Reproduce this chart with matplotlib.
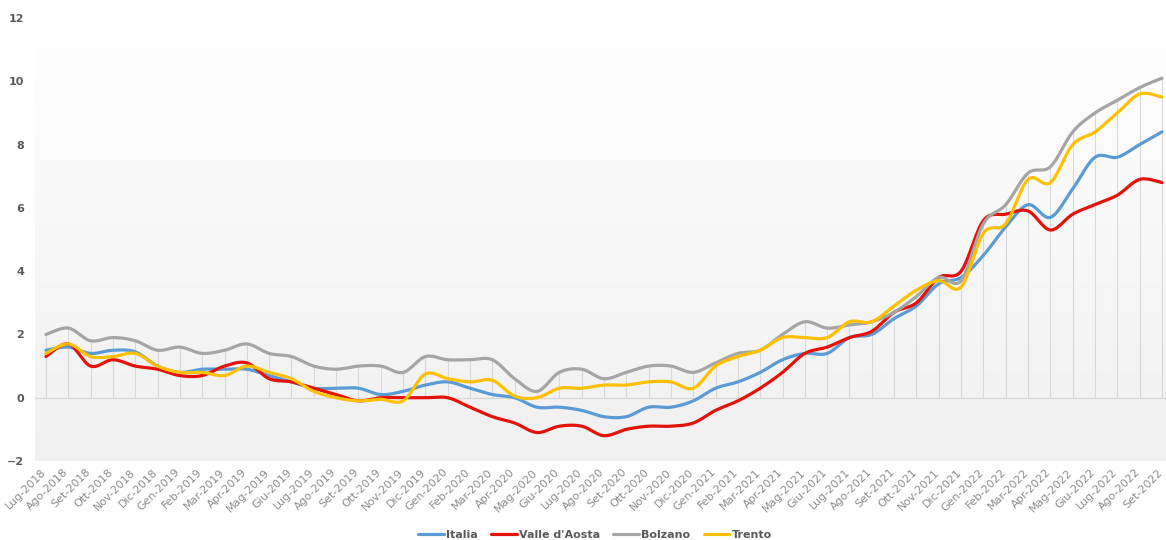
import numpy as np
import matplotlib
matplotlib.use("Agg")
import matplotlib.pyplot as plt
import matplotlib.transforms as mtransforms
from matplotlib.colors import LinearSegmentedColormap

months = [
    "Lug-2018", "Ago-2018", "Set-2018", "Ott-2018", "Nov-2018", "Dic-2018",
    "Gen-2019", "Feb-2019", "Mar-2019", "Apr-2019", "Mag-2019", "Giu-2019",
    "Lug-2019", "Ago-2019", "Set-2019", "Ott-2019", "Nov-2019", "Dic-2019",
    "Gen-2020", "Feb-2020", "Mar-2020", "Apr-2020", "Mag-2020", "Giu-2020",
    "Lug-2020", "Ago-2020", "Set-2020", "Ott-2020", "Nov-2020", "Dic-2020",
    "Gen-2021", "Feb-2021", "Mar-2021", "Apr-2021", "Mag-2021", "Giu-2021",
    "Lug-2021", "Ago-2021", "Set-2021", "Ott-2021", "Nov-2021", "Dic-2021",
    "Gen-2022", "Feb-2022", "Mar-2022", "Apr-2022", "Mag-2022", "Giu-2022",
    "Lug-2022", "Ago-2022", "Set-2022",
]

italia = [
    1.5, 1.6, 1.4, 1.5, 1.45, 1.0, 0.8, 0.9, 0.9, 0.9, 0.7, 0.5,
    0.3, 0.3, 0.3, 0.1, 0.2, 0.4, 0.5, 0.3, 0.1, 0.0, -0.3, -0.3,
    -0.4, -0.6, -0.6, -0.3, -0.3, -0.1, 0.3, 0.5, 0.8, 1.2, 1.4, 1.4,
    1.9, 2.0, 2.5, 2.9, 3.6, 3.8, 4.5, 5.4, 6.1, 5.7, 6.6, 7.6,
    7.6, 8.0, 8.4,
]
valle_aosta = [
    1.3, 1.7, 1.0, 1.2, 1.0, 0.9, 0.7, 0.7, 1.0, 1.1, 0.6, 0.5,
    0.3, 0.1, -0.1, 0.0, 0.0, 0.0, 0.0, -0.3, -0.6, -0.8, -1.1, -0.9,
    -0.9, -1.2, -1.0, -0.9, -0.9, -0.8, -0.4, -0.1, 0.3, 0.8, 1.4, 1.6,
    1.9, 2.1, 2.7, 3.0, 3.8, 4.0, 5.6, 5.8, 5.9, 5.3, 5.8, 6.1,
    6.4, 6.9, 6.8,
]
bolzano = [
    2.0, 2.2, 1.8, 1.9, 1.8, 1.5, 1.6, 1.4, 1.5, 1.7, 1.4, 1.3,
    1.0, 0.9, 1.0, 1.0, 0.8, 1.3, 1.2, 1.2, 1.2, 0.6, 0.2, 0.8,
    0.9, 0.6, 0.8, 1.0, 1.0, 0.8, 1.1, 1.4, 1.5, 2.0, 2.4, 2.2,
    2.3, 2.4, 2.7, 3.2, 3.8, 3.7, 5.5, 6.1, 7.1, 7.3, 8.4, 9.0,
    9.4, 9.8, 10.1,
]
trento = [
    1.4, 1.7, 1.3, 1.3, 1.4, 1.0, 0.8, 0.8, 0.7, 1.0, 0.8, 0.6,
    0.2, 0.0, -0.1, -0.05, -0.1, 0.75, 0.6, 0.5, 0.55, 0.05, 0.0, 0.3,
    0.3, 0.4, 0.4, 0.5, 0.5, 0.3, 1.0, 1.3, 1.5, 1.9, 1.9, 1.9,
    2.4, 2.4, 2.9, 3.4, 3.7, 3.5, 5.2, 5.5, 6.9, 6.8, 8.0, 8.4,
    9.0, 9.6, 9.5,
]

series = [
    ("Italia", italia, "#5B9BD5"),
    ("Valle d'Aosta", valle_aosta, "#E3120B"),
    ("Bolzano", bolzano, "#A5A5A5"),
    ("Trento", trento, "#FFC000"),
]


def smooth(y, steps=16):
    # Excel-style smoothed line: cubic Bezier with Catmull-Rom control points
    y = np.asarray(y, dtype=float)
    x = np.arange(len(y), dtype=float)
    pts = np.column_stack([x, y])
    out = []
    for i in range(len(pts) - 1):
        p0 = pts[max(i - 1, 0)]
        p1 = pts[i]
        p2 = pts[i + 1]
        p3 = pts[min(i + 2, len(pts) - 1)]
        c1 = p1 + (p2 - p0) / 6
        c2 = p2 - (p3 - p1) / 6
        t = np.linspace(0, 1, steps, endpoint=False)[:, None]
        seg = ((1 - t) ** 3) * p1 + 3 * ((1 - t) ** 2) * t * c1 + 3 * (1 - t) * t ** 2 * c2 + t ** 3 * p2
        out.append(seg)
    out.append(pts[-1:])
    out = np.vstack(out)
    return out[:, 0], out[:, 1]


fig = plt.figure(figsize=(11.66, 5.40), dpi=100)
ax = fig.add_axes([35 / 1166, (540 - 461) / 540, 1 - 35 / 1166, 443 / 540])

# gradient plot background
cmap = LinearSegmentedColormap.from_list("bg", ["#FFFFFF", "#F0F0F0"])
grad = np.linspace(0, 1, 256)[:, None]
ax.imshow(grad, cmap=cmap, aspect="auto", extent=[0, 1, 0, 1],
          transform=ax.transAxes, zorder=0, interpolation="bicubic")

x = np.arange(len(months))
top = np.max(np.vstack([italia, valle_aosta, bolzano, trento]), axis=0)
ax.vlines(x, 0, top, colors="#D9D9D9", linewidth=0.8, zorder=1)
ax.axhline(0, color="#D9D9D9", linewidth=1.0, zorder=1)

for name, values, color in series:
    sx, sy = smooth(values)
    ax.plot(sx, sy, color=color, linewidth=2.3, label=name, zorder=3,
            solid_capstyle="round")

ax.set_xlim(-0.49, 50.18)
ax.set_ylim(-2, 12)
ax.set_yticks(range(-2, 13, 2))
ax.set_xticks(x)
ax.set_xticklabels([])

# rotated month labels, nudged a little left so the last one stays inside
label_trans = mtransforms.blended_transform_factory(ax.transData, ax.transAxes) + \
    mtransforms.ScaledTranslation(-5 / 100, -6 / 100, fig.dpi_scale_trans)
for xi, m in zip(x, months):
    ax.text(xi, 0, m, transform=label_trans, rotation=45, ha="right", va="top",
            rotation_mode="anchor", fontsize=8, color="#8C8C8C", clip_on=False)

for lbl in ax.get_yticklabels():
    lbl.set_fontsize(8)
    lbl.set_fontweight("bold")
    lbl.set_color("#595959")
ax.tick_params(axis="both", length=0)
ax.tick_params(axis="y", pad=8)
for spine in ax.spines.values():
    spine.set_visible(False)

leg = fig.legend(loc="center", bbox_to_anchor=(595 / 1166, 5 / 540), ncol=4,
                 frameon=False, fontsize=8, handlelength=2.3,
                 handletextpad=0.2, columnspacing=1.2)
for txt in leg.get_texts():
    txt.set_color("#595959")
    txt.set_fontweight("bold")

fig.savefig("out.png", dpi=100)
